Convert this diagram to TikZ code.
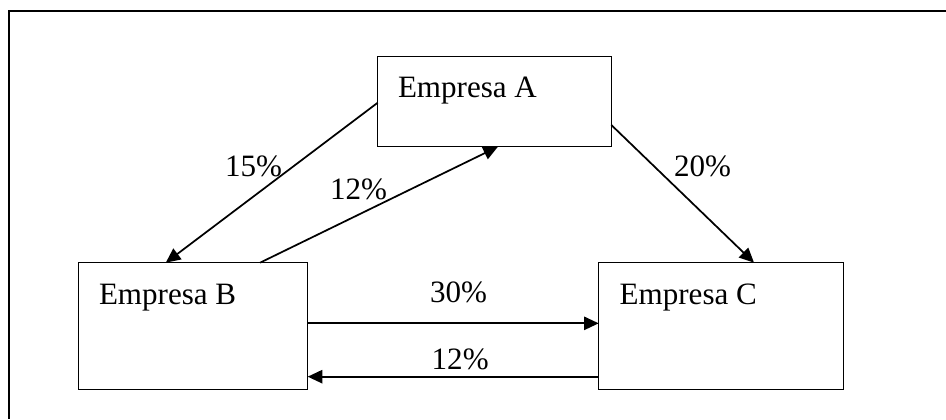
\documentclass[tikz,border=0pt]{standalone}
\usepackage{fontspec}
\setmainfont{Liberation Serif}
\usetikzlibrary{arrows.meta,calc}
\tikzset{
  box/.style={draw=black, line width=1pt, inner sep=0pt, outer sep=0pt},
  lbl/.style={inner sep=0pt, outer sep=0pt, anchor=base west, font=\fontsize{23.3}{28}\selectfont},
  flow/.style={draw=black, line width=1.3pt, -{Triangle[length=11pt,width=10pt]}},
  frame/.style={draw=black, line width=1.5pt}
}
\begin{document}
\begin{tikzpicture}[x=0.75pt,y=-0.75pt]
\useasboundingbox (0,0) rectangle (946,419);
% outer frame (cropped at right and bottom)
\coordinate (fTL) at (9,11);
\coordinate (fTR) at (946,11);
\coordinate (fBL) at (9,419);
\draw[frame] (fTR) -- (fTL) -- (fBL);
% boxes
\node[box, minimum width=175.2pt, minimum height=67.5pt] (A) at (494.5,101.7) {};
\node[box, minimum width=172.05pt, minimum height=94.95pt] (B) at (193,326) {};
\node[box, minimum width=183.45pt, minimum height=94.95pt] (C) at (721,326) {};
% box texts
\node[lbl] (tA) at (398,97.7) {Empresa A};
\node[lbl] (tB) at (99,304) {Empresa B};
\node[lbl] (tC) at (619.7,304) {Empresa C};
% connectors
\draw[flow] ([yshift=-34.5pt]A.north west) -- ([xshift=65.6pt]B.north west);
\draw[flow] ([xshift=136.3pt]B.north west) -- ([xshift=90.2pt]A.south west);
\draw[flow] ([yshift=-51.2pt]A.north east) -- ([xshift=116.5pt]C.north west);
\draw[flow] ([yshift=2pt]B.east) -- ([yshift=2pt]C.west);
\draw[flow] ([yshift=-38pt]C.west) -- ([yshift=-38pt]B.east);
% percentages
\node[lbl] (p15) at (225,176.7) {15\%};
\node[lbl] (p12a) at (330,199) {12\%};
\node[lbl] (p20) at (674,176.7) {20\%};
\node[lbl] (p30) at (430,302.7) {30\%};
\node[lbl] (p12b) at (431.7,369.3) {12\%};
\end{tikzpicture}
\end{document}
